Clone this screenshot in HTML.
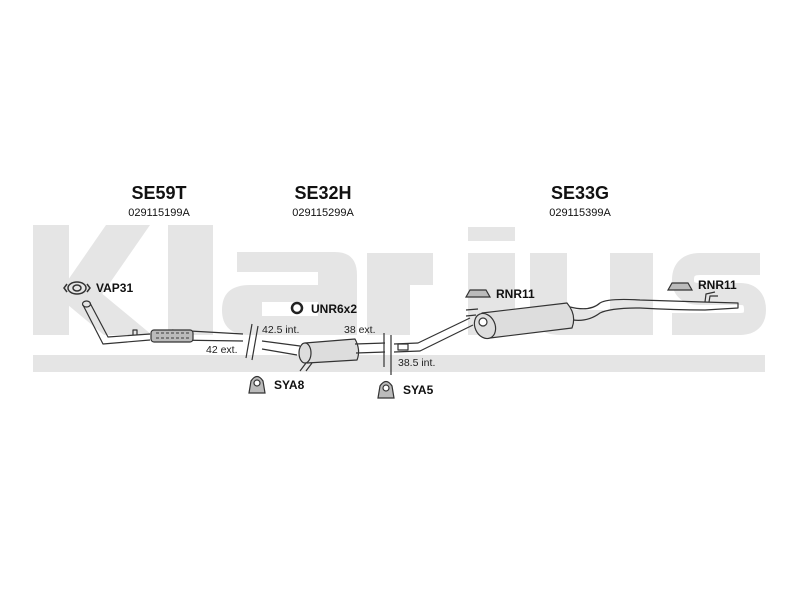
<!DOCTYPE html>
<html><head><meta charset="utf-8"><style>
html,body{margin:0;padding:0;background:#fff;}
svg{display:block;}
text{font-family:"Liberation Sans",Arial,sans-serif;}
</style></head><body>
<svg width="800" height="600" viewBox="0 0 800 600" xmlns="http://www.w3.org/2000/svg">
<rect width="800" height="600" fill="#fff"/>
<!-- watermark -->
<g fill="#e5e5e5">
<rect x="33" y="225" width="36" height="110"/>
<polygon points="68,280 106,225 150,225 98,300 68,300"/>
<polygon points="88,282 152,335 104,335 68,305 68,295"/>
<rect x="168" y="225" width="45" height="110"/>
<path d="M237,252 H335 Q357,252 357,275 V335 H250 Q222,335 222,310 Q222,285 250,285 H318 V272 H237 Z"/>
<rect x="367" y="253" width="43" height="82"/>
<path d="M405,253 H433 V285 H405 Z"/>
<rect x="468" y="227" width="47" height="14"/>
<rect x="468" y="253" width="47" height="82"/>
<path d="M530,253 H567 V300 Q567,310 580,310 H610 V253 H653 V335 H560 Q530,335 530,305 Z"/>
</g>
<g fill="#fff"><rect x="262" y="302" width="56" height="14"/></g>
<path d="M760,264 H700 Q683,264 683,280 Q683,294 700,294 H740 Q755,294 755,310 Q755,324 740,324 H672" fill="none" stroke="#e5e5e5" stroke-width="22"/>
<rect x="33" y="355" width="732" height="17" fill="#e5e5e5"/>

<!-- headings -->
<g text-anchor="middle" fill="#111">
<text x="159" y="199" font-size="18" font-weight="bold">SE59T</text>
<text x="159" y="216" font-size="11">029115199A</text>
<text x="323" y="199" font-size="18" font-weight="bold">SE32H</text>
<text x="323" y="216" font-size="11">029115299A</text>
<text x="580" y="199" font-size="18" font-weight="bold">SE33G</text>
<text x="580" y="216" font-size="11">029115399A</text>
</g>

<g fill="none" stroke="#333" stroke-width="1.2" stroke-linejoin="round">
<path d="M83,305 L103,344 L150,340 M90,303 L108,337 L150,334"/>
<ellipse cx="86.5" cy="304" rx="4" ry="3"/>
<path d="M172,330 L243,334 M172,340 L243,341"/>
<rect x="151" y="330" width="42" height="12" fill="#bbb" rx="3"/>
<path d="M156,333 L190,333 M156,338 L190,338" stroke="#555" stroke-dasharray="3,2"/>
<path d="M133,335 L133,330 L137,330 L137,335"/>
<path d="M252,324 L246,358 M258,326 L252,360" />
<path d="M262,341 L300,346 M262,349 L297,355"/>
<path d="M305,343 L355,339 Q361,350 357,360 L307,363 Q298,353 305,343 Z" fill="#ddd"/>
<ellipse cx="305" cy="353" rx="6" ry="10" fill="#ddd"/>
<path d="M355,344 L385,343 M356,353 L385,352"/>
<path d="M306,363 L300,371 M312,363 L306,371"/>
<path d="M384,333 L384,367 M391,335 L391,375"/>
<path d="M394,344 L418,343 L470,318 M394,352 L420,351 L473,325"/>
<rect x="398" y="344" width="10" height="6"/>
<path d="M482,313 L567,303 Q577,315 572,328 L490,338 Q475,325 482,313 Z" fill="#ddd"/>
<ellipse cx="485" cy="326" rx="10" ry="13" fill="#ddd" transform="rotate(-25 485 326)"/>
<circle cx="483" cy="322" r="4" fill="#fff"/>
<path d="M466,310 L478,309 M466,316 L476,315"/>
<path d="M570,307 Q590,312 600,303 Q608,298 640,300 L703,302 L738,303 L738,308 L705,310 Q675,310 640,308 Q610,308 600,313 Q588,322 573,320"/>
<path d="M705,302 L706,294 L715,292 M709,302 L710,296 L718,296"/>
</g>

<g fill="none" stroke="#333" stroke-width="1.5">
<ellipse cx="77" cy="288" rx="9" ry="6"/>
<ellipse cx="77" cy="288" rx="4" ry="3" />
<path d="M67,284 L64,288 L67,292 M87,284 L90,288 L87,292"/>
</g>
<circle cx="297" cy="308" r="5" fill="none" stroke="#222" stroke-width="2.5"/>
<g fill="#bbb" stroke="#333" stroke-width="1.2">
<path d="M249,393 L251,381 Q257,372 263,381 L265,393 Z"/>
<circle cx="257" cy="383" r="3" fill="#fff"/>
<path d="M378,398 L380,386 Q386,377 392,386 L394,398 Z"/>
<circle cx="386" cy="388" r="3" fill="#fff"/>
<path d="M466,297 L470,290 L486,290 L490,297 Z"/>
<path d="M668,290 L672,283 L688,283 L692,290 Z"/>
</g>

<g fill="#111" font-weight="bold" font-size="12">
<text x="96" y="292">VAP31</text>
<text x="311" y="313">UNR6x2</text>
<text x="274" y="389">SYA8</text>
<text x="403" y="394">SYA5</text>
<text x="496" y="298">RNR11</text>
<text x="698" y="289">RNR11</text>
</g>
<g fill="#222" font-size="10.5">
<text x="262" y="333">42.5 int.</text>
<text x="206" y="353">42 ext.</text>
<text x="344" y="333">38 ext.</text>
<text x="398" y="366">38.5 int.</text>
</g>
</svg>
</body></html>
